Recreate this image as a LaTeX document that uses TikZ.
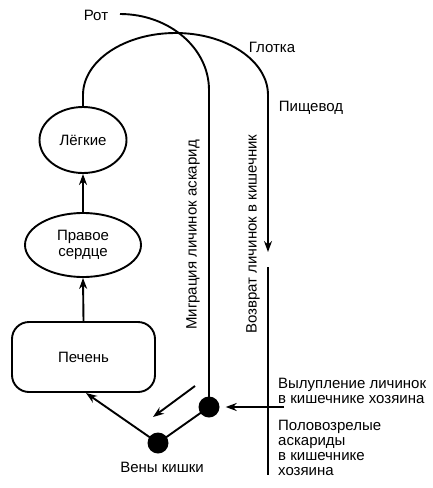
\documentclass[tikz,border=0pt]{standalone}
\usepackage{fontspec}
\setmainfont{Liberation Sans}
\usetikzlibrary{shapes.geometric,arrows.meta}
\begin{document}
\begin{tikzpicture}[x=1pt,y=-1pt,
  every node/.style={font=\fontsize{15}{17}\selectfont},
  ln/.style={line width=1.9pt},
  arr/.style={ln,-{Stealth[length=11pt,width=8pt]}},
  organ/.style={ellipse,draw,line width=1.9pt,inner sep=0pt},
  dotn/.style={circle,fill=black,minimum size=21pt,inner sep=0pt},
  lbl/.style={inner sep=0pt,align=left}]
\useasboundingbox (0,0) rectangle (433,488);
% organs
\node[organ,minimum width=87pt,minimum height=66pt] (lungs) at (83,140) {Лёгкие};
\node[organ,minimum width=116pt,minimum height=64pt,align=center] (heart) at (83,245) {Правое\\[-1pt]сердце};
\node[draw,line width=1.9pt,rounded corners=17pt,minimum width=143pt,minimum height=70pt] (liver) at (83.5,357) {Печень};
\node[dotn] (d1) at (209,407) {};
\node[dotn] (d2) at (158,443) {};
% coordinates
\coordinate (rotstart) at (120,14);
\coordinate (gl) at (83,95);
\coordinate (gr) at (268,95);
\coordinate (esoend) at (268,252);
\coordinate (intop) at (268,267);
\coordinate (inbot) at (268,475);
\coordinate (hatch) at (284,407);
\coordinate (livin) at (86,393);
\coordinate (fa) at (195,386);
\coordinate (fb) at (153,417);
% labels
\node[lbl] (rot) at (96,15) {Рот};
\node[lbl] (glotka) at (272,47) {Глотка};
\node[lbl] (pish) at (311,108) {Пищевод};
\node[lbl,rotate=90] (migr) at (193,235) {Миграция личинок аскарид};
\node[lbl,rotate=90] (vozv) at (253,234) {Возврат личинок в кишечник};
\node[lbl,anchor=west,align=left] (vyl) at (278,391) {Вылупление личинок\\[-1.5pt]в кишечнике хозяина};
\node[lbl,anchor=north west,align=left] (polo) at (278,420) {Половозрелые\\[-2pt]аскариды\\[-2pt]в кишечнике\\[-2pt]хозяина};
\node[lbl] (veny) at (162,467) {Вены кишки};
% connectors
\draw[ln] (rotstart) .. controls (169,14) and (209,48) .. (209,90) -- (d1.center);
\draw[ln] (lungs.north) -- (gl) .. controls (83,60.8) and (124.4,33) .. (175.5,33)
  .. controls (226.6,33) and (268,60.8) .. (gr);
\draw[arr] (gr) -- (esoend);
\draw[ln] (intop) -- (inbot);
\draw[arr] (hatch) -- ([xshift=6pt]d1.east);
\draw[ln] (d1.center) -- (d2.center);
\draw[arr] (d2.center) -- (livin);
\draw[arr] (fa) -- (fb);
\draw[arr] (liver.north) -- (heart.south);
\draw[arr] (heart.north) -- (lungs.south);
\end{tikzpicture}
\end{document}
